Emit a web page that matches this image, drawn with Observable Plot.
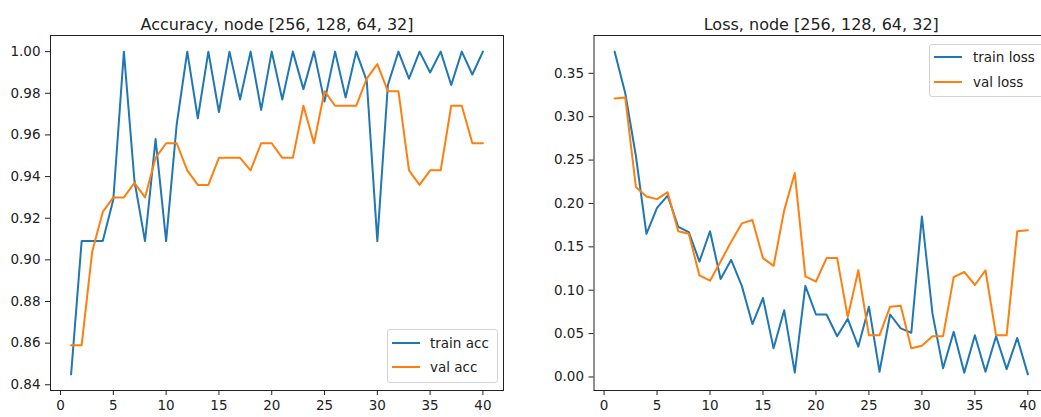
<!DOCTYPE html>
<html><head><meta charset="utf-8">
<script src="https://cdn.jsdelivr.net/npm/d3@7"></script>
<script src="https://cdn.jsdelivr.net/npm/@observablehq/plot@0.6"></script>
<style>
body{margin:0;background:#fff;font-family:"DejaVu Sans",sans-serif;}
#wrap{position:relative;width:1041px;height:417px;overflow:hidden;background:#fff;}
.panel{position:absolute;top:0;}
.legend{position:absolute;background:rgba(255,255,255,0.85);border:1px solid #d3d3d3;border-radius:3px;box-sizing:border-box;}
.row{position:absolute;left:0;height:20px;font-size:13.5px;color:#222;white-space:nowrap;line-height:20px;}
.sw{position:absolute;top:9px;height:2px;width:28px;}
.lbl{position:absolute;top:0;}
</style>
</head><body>
<div id="wrap"></div>
<script>
const epochs = [1,2,3,4,5,6,7,8,9,10,11,12,13,14,15,16,17,18,19,20,21,22,23,24,25,26,27,28,29,30,31,32,33,34,35,36,37,38,39,40];
const trainAcc = [0.845,0.909,0.909,0.909,0.929,1.000,0.938,0.909,0.958,0.909,
                  0.965,1.000,0.968,1.000,0.971,1.000,0.977,1.000,0.972,1.000,
                  0.977,1.000,0.982,1.000,0.976,1.000,0.978,1.000,0.986,0.909,
                  0.984,1.000,0.987,1.000,0.990,1.000,0.984,1.000,0.989,1.000];
const valAcc = [0.859,0.859,0.904,0.923,0.930,0.930,0.937,0.930,0.949,0.956,
                0.956,0.943,0.936,0.936,0.949,0.949,0.949,0.943,0.956,0.956,
                0.949,0.949,0.974,0.956,0.981,0.974,0.974,0.974,0.987,0.994,
                0.981,0.981,0.943,0.936,0.943,0.943,0.974,0.974,0.956,0.956];
const trainLoss = [0.375,0.327,0.255,0.165,0.195,0.209,0.173,0.167,0.133,0.168,
                   0.113,0.135,0.105,0.061,0.091,0.033,0.077,0.005,0.105,0.072,
                   0.072,0.047,0.067,0.035,0.081,0.006,0.072,0.056,0.051,0.185,
                   0.073,0.010,0.052,0.005,0.048,0.006,0.047,0.009,0.045,0.003];
const valLoss = [0.321,0.322,0.219,0.208,0.205,0.213,0.168,0.165,0.117,0.111,
                 0.133,0.156,0.177,0.181,0.137,0.128,0.192,0.235,0.116,0.110,
                 0.137,0.137,0.069,0.123,0.048,0.048,0.081,0.082,0.033,0.036,
                 0.047,0.047,0.115,0.121,0.106,0.123,0.048,0.048,0.168,0.169];
const accTicks = [0.84,0.86,0.88,0.90,0.92,0.94,0.96,0.98,1.00];
const lossTicks = [0.00,0.05,0.10,0.15,0.20,0.25,0.30,0.35];
const xTicks = [0,5,10,15,20,25,30,35,40];
const accTitle = "Accuracy, node [256, 128, 64, 32]";
const lossTitle = "Loss, node [256, 128, 64, 32]";
const accLegend = ["train acc","val acc"];
const lossLegend = ["train loss","val loss"];
const blue = "#1f77b4", orange = "#ff7f0e";

function table(vals){ return epochs.map((e,i)=>({epoch:e, v:vals[i]})); }

function panel({title, train, val, yDomain, yTicks, width, marginLeft, marginRight}) {
  return Plot.plot({
    width, height: 417, marginLeft, marginRight, marginTop: 35, marginBottom: 27,
    style: {fontFamily: "DejaVu Sans, sans-serif", fontSize: "13.5px", color: "#222", background: "transparent", overflow: "visible"},
    x: {domain: [-0.95, 41.95]},
    y: {domain: yDomain},
    marks: [
      Plot.axisX({ticks: xTicks, tickSize: 5, tickPadding: 5, label: null, tickFormat: d3.format("d")}),
      Plot.axisY({ticks: yTicks, tickSize: 5, tickPadding: 5, label: null, tickFormat: d3.format(".2f")}),
      Plot.lineY(table(train), {x: "epoch", y: "v", stroke: blue, strokeWidth: 2}),
      Plot.lineY(table(val), {x: "epoch", y: "v", stroke: orange, strokeWidth: 2}),
      Plot.frame({stroke: "#222", strokeWidth: 1}),
      Plot.text([title], {frameAnchor: "top", dy: -17, fontSize: 16, text: d => d, fill: "#222"})
    ]
  });
}

const wrap = document.getElementById("wrap");
const p1 = panel({title: accTitle, train: trainAcc, val: valAcc, yDomain: [0.83725, 1.00775], yTicks: accTicks, width: 520, marginLeft: 50, marginRight: 17});
p1.classList.add("panel"); p1.style.left = "0px";
wrap.appendChild(p1);
const p2 = panel({title: lossTitle, train: trainLoss, val: valLoss, yDomain: [-0.0156, 0.3936], yTicks: lossTicks, width: 535, marginLeft: 73.5, marginRight: 7});
p2.classList.add("panel"); p2.style.left = "520px";
wrap.appendChild(p2);

function legend(labels, box, swX, txtX, rowsY) {
  const d = document.createElement("div");
  d.className = "legend";
  Object.assign(d.style, {left: box[0]+"px", top: box[1]+"px", width: box[2]+"px", height: box[3]+"px"});
  wrap.appendChild(d);
  [blue, orange].forEach((c, i) => {
    const r = document.createElement("div");
    r.className = "row";
    r.style.top = (rowsY[i] - 10) + "px";
    r.style.left = "0px";
    const s = document.createElement("span");
    s.className = "sw"; s.style.left = swX + "px"; s.style.background = c;
    const t = document.createElement("span");
    t.className = "lbl"; t.style.left = txtX + "px"; t.textContent = labels[i];
    r.appendChild(s); r.appendChild(t);
    wrap.appendChild(r);
  });
}
legend(accLegend, [387, 329, 111, 54], 392, 430, [343, 367]);
legend(lossLegend, [929, 44, 120, 53], 934, 973, [57, 82]);
</script>
</body></html>
